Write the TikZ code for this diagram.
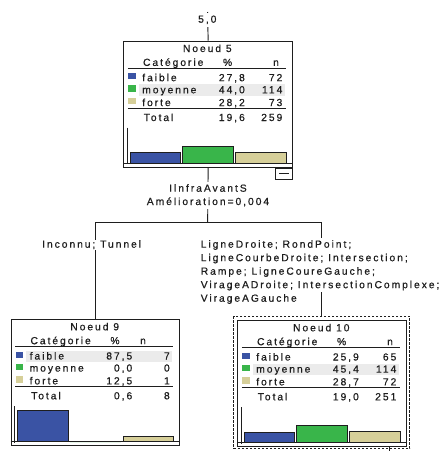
\documentclass[tikz,border=0pt]{standalone}
\usepackage{fontspec}
\setmainfont{Liberation Sans}[LetterSpace=19,FakeBold=0.6]
\definecolor{cbleu}{RGB}{58,83,164}
\definecolor{cvert}{RGB}{57,181,74}
\definecolor{cbeige}{RGB}{214,207,153}
\definecolor{hlgray}{RGB}{235,235,235}
\definecolor{ink}{RGB}{30,30,30}
\tikzset{
  txt/.style={inner sep=0pt, font=\fontsize{10.3}{13.5}\selectfont},
  lbl/.style={txt, fill=white, inner xsep=1pt, inner ysep=2pt, text height=7.5pt, text depth=2pt},
  panel/.style={draw, inner sep=0pt, minimum width=168.7pt, minimum height=126pt, anchor=north west},
  bar/.style={draw=ink, line width=0.8pt}
}
% #1 prefix, #2 title, #3 x of n header, #4 baseline of highlighted row
\newcommand\panelhead[4]{%
  \fill[hlgray] (15.5,#4-9) rectangle (161.5,#4+2.8);
  \node[txt,anchor=base] (#1-t) at (84,11.3) {#2};
  \node[txt,anchor=base west] (#1-c) at (19.3,25.2) {Catégorie};
  \node[txt,anchor=base] (#1-p) at (104.3,25.2) {\%};
  \node[txt,anchor=base] (#1-n) at (#3,25.2) {n};
  \draw (4.5,27.6) -- (162.5,27.6);
  \draw (4.5,67.7) -- (162.5,67.7);
  \fill[cbleu] (4.8,32.5) rectangle (12.3,38.7);
  \fill[cvert] (4.8,44.6) rectangle (12.3,50.8);
  \fill[cbeige] (4.8,57.4) rectangle (12.3,63.6);
  \node[txt,anchor=base west] (#1-l1) at (18.5,40.5) {faible};
  \node[txt,anchor=base west] (#1-l2) at (18.5,52.6) {moyenne};
  \node[txt,anchor=base west] (#1-l3) at (18.5,65.4) {forte};
  \node[txt,anchor=base west] (#1-l4) at (20,80.3) {Total};
}
% #1 prefix, #2..#9 values
\newcommand\panelrows[9]{%
  \node[txt,anchor=base east] (#1-p1) at (122,40.5) {#2};
  \node[txt,anchor=base east] (#1-n1) at (159.5,40.5) {#3};
  \node[txt,anchor=base east] (#1-p2) at (122,52.6) {#4};
  \node[txt,anchor=base east] (#1-n2) at (159.5,52.6) {#5};
  \node[txt,anchor=base east] (#1-p3) at (122,65.4) {#6};
  \node[txt,anchor=base east] (#1-n3) at (159.5,65.4) {#7};
  \node[txt,anchor=base east] (#1-pt) at (122,80.3) {#8};
  \node[txt,anchor=base east] (#1-nt) at (159.5,80.3) {#9};
}
% bar tops (relative)
\newcommand\panelbars[3]{%
  \draw (4.2,87) -- (4.2,123.5);
  \draw (0,122.7) -- (168.7,122.7);
  \filldraw[bar, fill=cbleu] (6.7,#1) rectangle (57.2,122.7);
  \filldraw[bar, fill=cvert] (59.4,#2) rectangle (110,122.7);
  \filldraw[bar, fill=cbeige] (112.4,#3) rectangle (162.7,122.7);
}
\begin{document}
\begin{tikzpicture}[x=1pt,y=-1pt,line width=0.95pt,color=ink]
\useasboundingbox[fill=white] (0,0) rectangle (440,451);

% boxes
\node[panel] (n5) at (123.3,40.7) {};
\node[panel] (n9) at (10.7,319) {};
\node[panel] (n10) at (237.3,320) {};
\node[draw, inner sep=0pt, dash pattern=on 2.4pt off 1.6pt, minimum width=176pt, minimum height=132.3pt, anchor=north west] (n10o) at (233.3,316) {};
\node[draw, inner sep=0pt, minimum width=16.7pt, minimum height=11.6pt, anchor=north east] (m5) at (n5.south east) {};
\draw ([xshift=4pt]m5.west) -- ([xshift=-4pt]m5.east);
\draw (389.3,446) -- (389.3,452);

% connectors
\coordinate (top) at (207.65,12);
\coordinate (j) at (207.65,222.7);
\draw (top) -- (n5.north);
\draw (n5.south) -- (j);
\draw (j) -| (n9.north);
\draw (j) -| (n10o.north);

% edge labels
\node[lbl,anchor=base] (v50) at (207.3,22.7) {5,0};
\node[lbl,anchor=base] (s1) at (208,191.7) {IlnfraAvantS};
\node[lbl,anchor=base] (s2) at (208,205) {Amélioration=0,004};
\node[lbl,anchor=base west,inner ysep=0.5pt] (bl) at (40.7,247.7) {Inconnu; Tunnel};
\node[lbl,anchor=base west] (br1) at (199.3,247.7) {LigneDroite; RondPoint;};
\node[lbl,anchor=base west] (br2) at (199.3,261.2) {LigneCourbeDroite; Intersection;};
\node[lbl,anchor=base west] (br3) at (199.3,274.7) {Rampe; LigneCoureGauche;};
\node[lbl,anchor=base west] (br4) at (199.3,288.2) {VirageADroite; IntersectionComplexe;};
\node[lbl,anchor=base west] (br5) at (199.3,301.7) {VirageAGauche};

% node 5
\begin{scope}[xshift=123.3pt,yshift=-40.7pt]
  \panelhead{p5}{Noeud 5}{152.7}{52.6}
  \panelrows{p5}{27,8}{72}{44,0}{114}{28,2}{73}{19,6}{259}
  \panelbars{111.6}{106}{111.6}
\end{scope}
% node 9
\begin{scope}[xshift=10.7pt,yshift=-319pt]
  \panelhead{p9}{Noeud 9}{132.3}{40.5}
  \panelrows{p9}{87,5}{7}{0,0}{0}{12,5}{1}{0,6}{8}
  \panelbars{91}{122.7}{117}
\end{scope}
% node 10
\begin{scope}[xshift=237.3pt,yshift=-320pt]
  \panelhead{p10}{Noeud 10}{152.7}{52.6}
  \panelrows{p10}{25,9}{65}{45,4}{114}{28,7}{72}{19,0}{251}
  \panelbars{112.3}{105}{111.7}
\end{scope}
\end{tikzpicture}
\end{document}
